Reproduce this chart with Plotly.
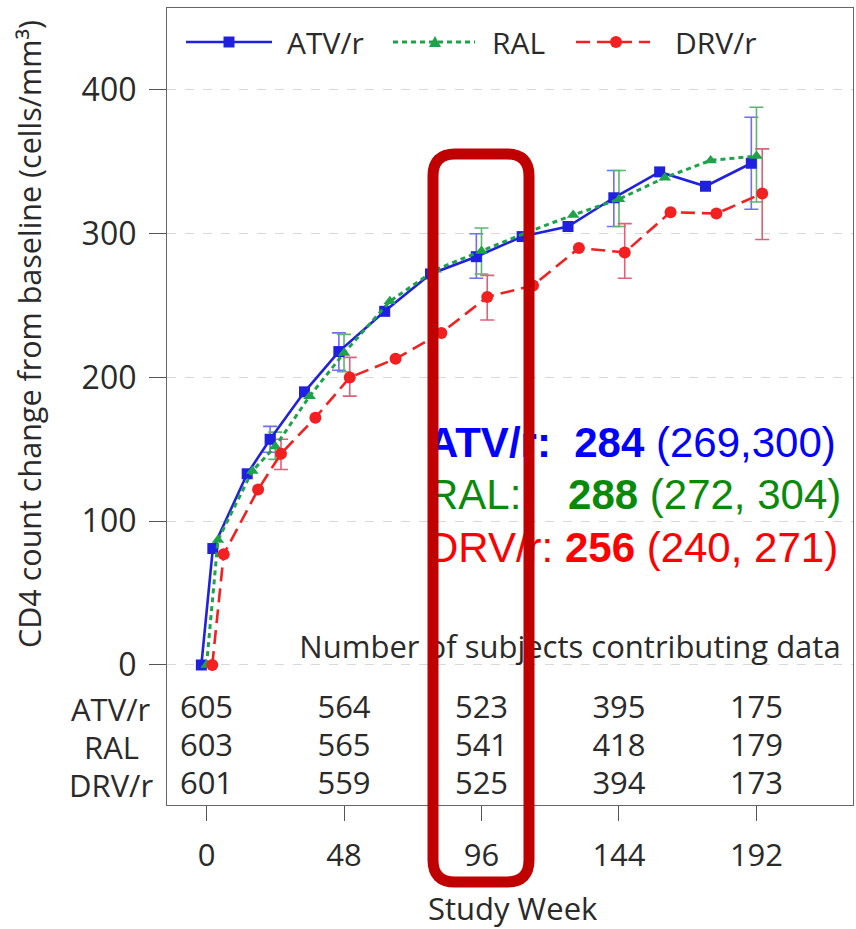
import plotly.graph_objects as go

# ---- data -------------------------------------------------------------
weeks = [0, 4, 16, 24, 36, 48, 64, 80, 96, 112, 128, 144, 160, 176, 192]
atv = [0, 81, 133, 157, 190, 218, 246, 272, 284, 298, 305, 325, 343, 333, 349]
ral = [0, 87, 135, 152, 187, 217, 253, 275, 288, 301, 313, 324, 339, 351, 354]
drv = [0, 77, 122, 147, 172, 200, 213, 231, 256, 264, 290, 287, 315, 314, 328]

ci_weeks = [24, 48, 96, 144, 192]
atv_lo = [148, 205, 269, 305, 317]
atv_hi = [166, 231, 300, 344, 381]
ral_lo = [143, 204, 272, 305, 322]
ral_hi = [162, 230, 304, 344, 388]
drv_lo = [136, 187, 240, 269, 296]
drv_hi = [157, 214, 271, 307, 359]

table_weeks = [0, 48, 96, 144, 192]
n_atv = [605, 564, 523, 395, 175]
n_ral = [603, 565, 541, 418, 179]
n_drv = [601, 559, 525, 394, 173]

arms = ["ATV/r", "RAL", "DRV/r"]
highlight_week = 96

# ---- geometry ---------------------------------------------------------
W, H = 856, 929
L, R, T, B = 167, 3, 8, 124
PW, PH = W - L - R, H - T - B
X_RANGE = [-13.8, 225.7]
Y_RANGE = [-97.4, 457.0]
DODGE = {"ATV/r": -1.8, "RAL": 0.0, "DRV/r": 2.0}


def px_x(p):
    return (p - L) / PW


def px_y(p):
    return (H - B - p) / PH


def data_y(p):
    return Y_RANGE[0] + (H - B - p) / PH * (Y_RANGE[1] - Y_RANGE[0])


def data_x(p):
    return X_RANGE[0] + (p - L) / PW * (X_RANGE[1] - X_RANGE[0])


FONT = "Open Sans"
TXT = "#2a2a2a"
SZ = 31

style = {
    "ATV/r": dict(color="#2020E0", err="#6f6ff0", dash="solid", symbol="square", size=11, width=2.6),
    "RAL": dict(color="#1FA34A", err="#5fb473", dash="5px,4px", symbol="triangle-up", size=11, width=3),
    "DRV/r": dict(color="#F22020", err="#e0607a", dash="14px,7px", symbol="circle", size=12, width=2.6),
}
series = {"ATV/r": atv, "RAL": ral, "DRV/r": drv}
ci = {"ATV/r": (atv_lo, atv_hi), "RAL": (ral_lo, ral_hi), "DRV/r": (drv_lo, drv_hi)}
counts = {"ATV/r": n_atv, "RAL": n_ral, "DRV/r": n_drv}

fig = go.Figure()

# confidence intervals
for arm in arms:
    s = style[arm]
    vals = series[arm]
    lo, hi = ci[arm]
    y_ci = [vals[weeks.index(w)] for w in ci_weeks]
    fig.add_trace(go.Scatter(
        x=[w + DODGE[arm] for w in ci_weeks], y=y_ci, mode="markers",
        marker=dict(size=1, opacity=0),
        error_y=dict(type="data", symmetric=False,
                     array=[h - y for h, y in zip(hi, y_ci)],
                     arrayminus=[y - l for l, y in zip(lo, y_ci)],
                     color=s["err"], thickness=1.6, width=7),
        showlegend=False, hoverinfo="skip"))

# mean change lines
for arm in arms:
    s = style[arm]
    fig.add_trace(go.Scatter(
        x=[w + DODGE[arm] for w in weeks], y=series[arm], mode="lines+markers",
        name=arm, line=dict(color=s["color"], width=s["width"], dash=s["dash"]),
        marker=dict(symbol=s["symbol"], size=s["size"], color=s["color"]),
        showlegend=False))

# week-96 summary text
i96 = weeks.index(highlight_week)
j96 = ci_weeks.index(highlight_week)
summary_rows = [
    ("#0000FF",
     "<b>ATV/r:&nbsp;&nbsp;%d</b> (%d,%d)" % (atv[i96], atv_lo[j96], atv_hi[j96])),
    ("#0A8A0A",
     "RAL:&nbsp;&nbsp;&nbsp;&nbsp;<b>%d</b> (%d, %d)" % (ral[i96], ral_lo[j96], ral_hi[j96])),
    ("#FF0000",
     "DRV/r: <b>%d</b> (%d, %d)" % (drv[i96], drv_lo[j96], drv_hi[j96])),
]
for k, (col, txt) in enumerate(summary_rows):
    fig.add_trace(go.Scatter(
        x=[data_x(428)], y=[data_y(446 + 52.5 * k)], mode="text", text=[txt],
        textposition="middle right",
        textfont=dict(family="Liberation Sans, Arial", size=42, color=col),
        showlegend=False, hoverinfo="skip", cliponaxis=False))

# number-at-risk table
fig.add_trace(go.Scatter(
    x=[data_x(570)], y=[data_y(650)], mode="text",
    text=["Number of subjects contributing data"], textposition="middle center",
    textfont=dict(family=FONT, size=SZ, color=TXT), showlegend=False, hoverinfo="skip"))
for k, arm in enumerate(arms):
    fig.add_trace(go.Scatter(
        x=table_weeks, y=[data_y(710 + 38 * k)] * len(table_weeks), mode="text",
        text=[str(n) for n in counts[arm]], textposition="middle center",
        textfont=dict(family=FONT, size=SZ, color=TXT), showlegend=False, hoverinfo="skip"))

annotations = []
for k, arm in enumerate(arms):
    annotations.append(dict(
        x=px_x(111), y=px_y(709 + 38 * k), xref="paper", yref="paper", text=arm,
        showarrow=False, xanchor="center", yanchor="middle",
        font=dict(family=FONT, size=SZ, color=TXT)))

# axis titles
annotations.append(dict(
    x=px_x(29), y=px_y(334), xref="paper", yref="paper", textangle=-90,
    xanchor="center", yanchor="middle",
    text="CD4 count change from baseline (cells/mm³)", showarrow=False,
    font=dict(family=FONT, size=30.5, color=TXT)))
annotations.append(dict(
    x=px_x(513), y=px_y(908), xref="paper", yref="paper", text="Study Week",
    xanchor="center", yanchor="middle",
    showarrow=False, font=dict(family=FONT, size=31, color=TXT)))

# legend drawn as shapes + labels
shapes = []
legend_y = 42
legend_items = [("ATV/r", 186, 272, 229, 285), ("RAL", 393, 475, 435, 490), ("DRV/r", 576, 650, 616, 673)]
for arm, x0, x1, xm, xt in legend_items:
    s = style[arm]
    shapes.append(dict(type="line", xref="paper", yref="paper",
                       x0=px_x(x0), x1=px_x(x1), y0=px_y(legend_y), y1=px_y(legend_y),
                       line=dict(color=s["color"], width=s["width"], dash=s["dash"])))
    r = 5.5
    if s["symbol"] == "square":
        shapes.append(dict(type="rect", xref="paper", yref="paper",
                           x0=px_x(xm - r), x1=px_x(xm + r), y0=px_y(legend_y + r), y1=px_y(legend_y - r),
                           fillcolor=s["color"], line=dict(width=0)))
    elif s["symbol"] == "circle":
        shapes.append(dict(type="circle", xref="paper", yref="paper",
                           x0=px_x(xm - 6), x1=px_x(xm + 6), y0=px_y(legend_y + 6), y1=px_y(legend_y - 6),
                           fillcolor=s["color"], line=dict(width=0)))
    else:
        path = "M %f,%f L %f,%f L %f,%f Z" % (
            px_x(xm - 6), px_y(legend_y + 5), px_x(xm + 6), px_y(legend_y + 5), px_x(xm), px_y(legend_y - 6))
        shapes.append(dict(type="path", xref="paper", yref="paper", path=path,
                           fillcolor=s["color"], line=dict(width=0)))
    annotations.append(dict(x=px_x(xt), y=px_y(legend_y), xref="paper", yref="paper",
                            text=arm, showarrow=False, xanchor="left", yanchor="middle",
                            font=dict(family=FONT, size=30, color=TXT)))

# rounded highlight box around week 96
bx0, bx1, by0, by1, rad = 433, 529, 154, 882, 22
pts = [
    ("M", bx0 + rad, by0), ("L", bx1 - rad, by0), ("Q", bx1, by0, bx1, by0 + rad),
    ("L", bx1, by1 - rad), ("Q", bx1, by1, bx1 - rad, by1), ("L", bx0 + rad, by1),
    ("Q", bx0, by1, bx0, by1 - rad), ("L", bx0, by0 + rad), ("Q", bx0, by0, bx0 + rad, by0),
]
path = ""
for p in pts:
    cmd, coords = p[0], p[1:]
    xy = []
    for a in range(0, len(coords), 2):
        xy.append("%f,%f" % (px_x(coords[a]), px_y(coords[a + 1])))
    path += cmd + " " + " ".join(xy) + " "
path += "Z"
shapes.append(dict(type="path", xref="paper", yref="paper", path=path, layer="above",
                   line=dict(color="#C00000", width=11)))

fig.update_layout(
    width=W, height=H, margin=dict(l=L, r=R, t=T, b=B, autoexpand=False),
    paper_bgcolor="white", plot_bgcolor="white", showlegend=False,
    shapes=shapes, annotations=annotations,
    xaxis=dict(range=X_RANGE, tickvals=table_weeks, ticktext=[str(w) for w in table_weeks],
               ticks="outside", ticklen=15, tickcolor="#555", tickwidth=1.2,
               ticklabelstandoff=8,
               showgrid=False, zeroline=False, showline=True, linecolor="#666", linewidth=1.2,
               mirror=True, tickfont=dict(family=FONT, size=SZ, color=TXT)),
    yaxis=dict(range=Y_RANGE, tickvals=[0, 100, 200, 300, 400],
               ticks="outside", ticklen=17, tickcolor="#555", tickwidth=1.2,
               ticklabelstandoff=6,
               showgrid=True, gridcolor="#d9d9d9", griddash="dash", gridwidth=1,
               zeroline=False, showline=True, linecolor="#666", linewidth=1.2,
               mirror=True, tickfont=dict(family=FONT, size=32, color=TXT)),
)

fig.write_html("out.html")
